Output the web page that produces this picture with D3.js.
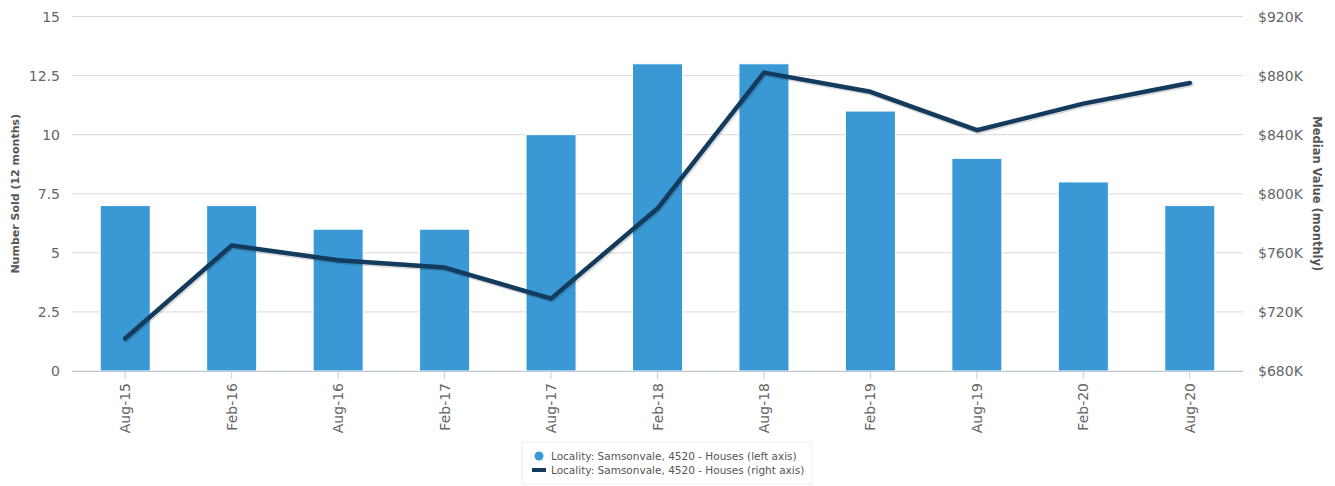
<!DOCTYPE html>
<html><head><meta charset="utf-8">
<script src="https://cdn.jsdelivr.net/npm/d3@7"></script>
<style>body{margin:0;background:#fff;font-family:"DejaVu Sans",sans-serif;}</style>
</head><body><svg id="c" width="1335" height="486"></svg>
<script>
const categories = ["Aug-15","Feb-16","Aug-16","Feb-17","Aug-17","Feb-18","Aug-18","Feb-19","Aug-19","Feb-20","Aug-20"];
const numberSold = [7,7,6,6,10,13,13,11,9,8,7];
const medianValue = [702,765,755,750,729,790,882,869,843,861,875];
const leftTicks = [0,2.5,5,7.5,10,12.5,15];
const rightTicks = [680,720,760,800,840,880,920];
const seriesName = "Locality: Samsonvale, 4520 - Houses";

const svg = d3.select("#c");
const L=72,R=1243,T=16.5,B=371;
const x = d3.scaleBand().domain(categories).range([L,R]).paddingInner(0.53).paddingOuter(0.265);
const yL = d3.scaleLinear().domain([0,15]).range([B,T]);
const yR = d3.scaleLinear().domain([680,920]).range([B,T]);

// grid
svg.append("g").selectAll("line").data(leftTicks).join("line")
 .attr("x1",L).attr("x2",R).attr("y1",d=>yL(d)).attr("y2",d=>yL(d))
 .attr("stroke","#d8d8d8").attr("stroke-width",1);

// left labels
svg.append("g").selectAll("text").data(leftTicks).join("text")
 .attr("x",60).attr("y",d=>yL(d)+5).attr("text-anchor","end")
 .attr("font-size",14).attr("fill","#666").text(d=>d);
// right labels
svg.append("g").selectAll("text").data(rightTicks).join("text")
 .attr("x",1258).attr("y",d=>yR(d)+5).attr("text-anchor","start")
 .attr("font-size",14).attr("fill","#666").text(d=>"$"+d+"K");

// bars
svg.append("g").selectAll("rect").data(numberSold).join("rect")
 .attr("x",(d,i)=>x(categories[i])).attr("width",x.bandwidth())
 .attr("y",d=>yL(d)).attr("height",d=>B-yL(d))
 .attr("fill","#3a99d5").attr("stroke","#fff").attr("stroke-width",1);

// x axis line
svg.append("line").attr("x1",L).attr("x2",R).attr("y1",B+0.5).attr("y2",B+0.5).attr("stroke","#c0c8d8");
svg.append("g").selectAll("line").data(categories).join("line")
 .attr("x1",d=>x(d)+x.bandwidth()/2).attr("x2",d=>x(d)+x.bandwidth()/2)
 .attr("y1",B+1).attr("y2",B+8).attr("stroke","#c0d0e0");
svg.append("g").selectAll("text").data(categories).join("text")
 .attr("transform",d=>`translate(${x(d)+x.bandwidth()/2+5},${B+12}) rotate(-90)`)
 .attr("text-anchor","end").attr("font-size",14).attr("fill","#666").text(d=>d);

// line
const line = d3.line().x((d,i)=>x(categories[i])+x.bandwidth()/2).y(d=>yR(d));
svg.append("path").datum(medianValue).attr("d",line).attr("fill","none")
 .attr("stroke","rgba(0,0,0,0.15)").attr("stroke-width",6).attr("transform","translate(1,1)")
 .attr("stroke-linejoin","round").attr("stroke-linecap","round");
svg.append("path").datum(medianValue).attr("d",line).attr("fill","none")
 .attr("stroke","#123b5e").attr("stroke-width",4.5)
 .attr("stroke-linejoin","round").attr("stroke-linecap","round");

// axis titles
svg.append("text").attr("transform",`translate(19,${(T+B)/2}) rotate(-90)`)
 .attr("text-anchor","middle").attr("font-size",11).attr("font-weight","bold").attr("fill","#555")
 .text("Number Sold (12 months)");
svg.append("text").attr("transform",`translate(1313,${(T+B)/2}) rotate(90)`)
 .attr("text-anchor","middle").attr("font-size",11.5).attr("font-weight","bold").attr("fill","#555")
 .text("Median Value (monthly)");

// legend
const lg = svg.append("g");
lg.append("rect").attr("x",522).attr("y",442).attr("width",290).attr("height",42)
 .attr("fill","#fff").attr("stroke","#eeeeee");
lg.append("circle").attr("cx",539).attr("cy",456).attr("r",4.5).attr("fill","#3a99d5");
lg.append("rect").attr("x",532).attr("y",468).attr("width",14).attr("height",4).attr("fill","#123b5e");
lg.append("text").attr("x",551).attr("y",460).attr("font-size",10.5).attr("fill","#555").text(seriesName+" (left axis)");
lg.append("text").attr("x",551).attr("y",474).attr("font-size",10.5).attr("fill","#555").text(seriesName+" (right axis)");
</script></body></html>
